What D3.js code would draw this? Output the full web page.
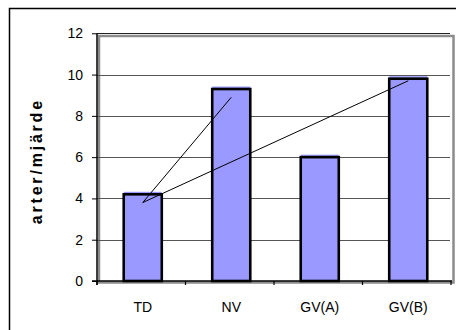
<!DOCTYPE html>
<html>
<head>
<meta charset="utf-8">
<script src="https://cdn.jsdelivr.net/npm/d3@7"></script>
<style>
  html, body { margin: 0; padding: 0; background: #fff; }
  svg { display: block; font-family: "Liberation Sans", Arial, sans-serif; }
</style>
</head>
<body>
<svg id="chart" width="456" height="330"></svg>
<script>
// Species per sample plot, by site
const categories = ["TD", "NV", "GV(A)", "GV(B)"];
const speciesValues = [4.2, 9.3, 6.0, 9.8];
const yTicks = [0, 2, 4, 6, 8, 10, 12];
const yLabel = "arter/mjärde";

// Connector lines drawn from TD to two of the other sites
const linkStart = { category: "TD", value: 3.8 };
const linkEnds = [
  { category: "NV", value: 8.9 },
  { category: "GV(B)", value: 9.7 }
];

const svg = d3.select("#chart");

const plot = { left: 97, right: 451, top: 33.3, bottom: 281 };

const x = d3.scaleBand()
  .domain(categories)
  .range([plot.left, plot.right])
  .paddingInner(0)
  .paddingOuter(0);

const y = d3.scaleLinear()
  .domain([0, 12])
  .range([plot.bottom, plot.top]);

const barWidth = x.bandwidth() * 0.43;
const center = c => x(c) + x.bandwidth() / 2 + 1.5;

// Outer chart frame
svg.append("rect")
  .attr("x", 9.5).attr("y", 8.5)
  .attr("width", 470).attr("height", 340)
  .attr("fill", "none").attr("stroke", "#000").attr("stroke-width", 1.5);

// Plot area frame (grey)
svg.append("rect")
  .attr("x", 99).attr("y", 36)
  .attr("width", 453.5 - 99).attr("height", 282.5 - 36)
  .attr("fill", "none").attr("stroke", "#8c8c8c").attr("stroke-width", 2.5);

// Horizontal gridlines
svg.append("g")
  .selectAll("line")
  .data(yTicks.filter(d => d > 0))
  .join("line")
  .attr("x1", plot.left).attr("x2", plot.right - 1)
  .attr("y1", d => Math.round(y(d)) + 0.5).attr("y2", d => Math.round(y(d)) + 0.5)
  .attr("stroke", d => d === 12 ? "#222" : "#555")
  .attr("stroke-width", 1);

// Y axis
const yAxis = svg.append("g")
  .attr("transform", `translate(${plot.left},0)`)
  .call(d3.axisLeft(y).tickValues(yTicks).tickSize(5).tickPadding(9).tickFormat(d3.format("d")));
yAxis.select(".domain").attr("stroke", "#000").attr("stroke-width", 1.5)
  .attr("d", `M0,${plot.top}V${plot.bottom + 4}`);
yAxis.selectAll(".tick line").attr("stroke", "#000");
yAxis.selectAll("text")
  .attr("fill", "#000")
  .style("font-size", "14px")
  .style("font-family", "'Liberation Sans', Arial, sans-serif");

// Bars: fill sits slightly above its outline
const bars = svg.append("g");
bars.selectAll("rect.fill")
  .data(categories.map((c, i) => ({ c, v: speciesValues[i] })))
  .join("rect")
  .attr("class", "fill")
  .attr("x", d => center(d.c) - barWidth / 2)
  .attr("y", d => y(d.v) - 2.5)
  .attr("width", barWidth)
  .attr("height", d => y(0) - y(d.v) + 2.5)
  .attr("fill", "#9999ff");
bars.selectAll("rect.edge")
  .data(categories.map((c, i) => ({ c, v: speciesValues[i] })))
  .join("rect")
  .attr("class", "edge")
  .attr("x", d => center(d.c) - barWidth / 2)
  .attr("y", d => y(d.v))
  .attr("width", barWidth)
  .attr("height", d => y(0) - y(d.v))
  .attr("fill", "none")
  .attr("stroke", "#000")
  .attr("stroke-width", 2.6);

// X axis
const xAxis = svg.append("g")
  .attr("transform", `translate(0,${plot.bottom})`);
xAxis.append("line")
  .attr("x1", plot.left - 5).attr("x2", plot.right + 1)
  .attr("y1", 0).attr("y2", 0)
  .attr("stroke", "#000").attr("stroke-width", 1.5);
xAxis.selectAll("line.tick")
  .data(categories.map(c => x(c)).concat([plot.right]))
  .join("line")
  .attr("class", "tick")
  .attr("x1", d => d).attr("x2", d => d)
  .attr("y1", 0).attr("y2", 4)
  .attr("stroke", "#000").attr("stroke-width", 1.2);
xAxis.selectAll("text")
  .data(categories)
  .join("text")
  .attr("x", d => center(d))
  .attr("y", 31)
  .attr("text-anchor", "middle")
  .style("font-size", "14px")
  .text(d => d);

// Connector lines
const linkGroup = svg.append("g");
linkGroup.selectAll("line")
  .data(linkEnds)
  .join("line")
  .attr("x1", center(linkStart.category))
  .attr("y1", y(linkStart.value))
  .attr("x2", d => center(d.category))
  .attr("y2", d => y(d.value))
  .attr("stroke", "#000")
  .attr("stroke-width", 1);

// Y axis title
svg.append("text")
  .attr("transform", `translate(42,${(plot.top + plot.bottom) / 2 + 4}) rotate(-90)`)
  .attr("text-anchor", "middle")
  .style("font-size", "16px")
  .style("font-weight", "bold")
  .style("letter-spacing", "2.8px")
  .text(yLabel);
</script>
</body>
</html>
